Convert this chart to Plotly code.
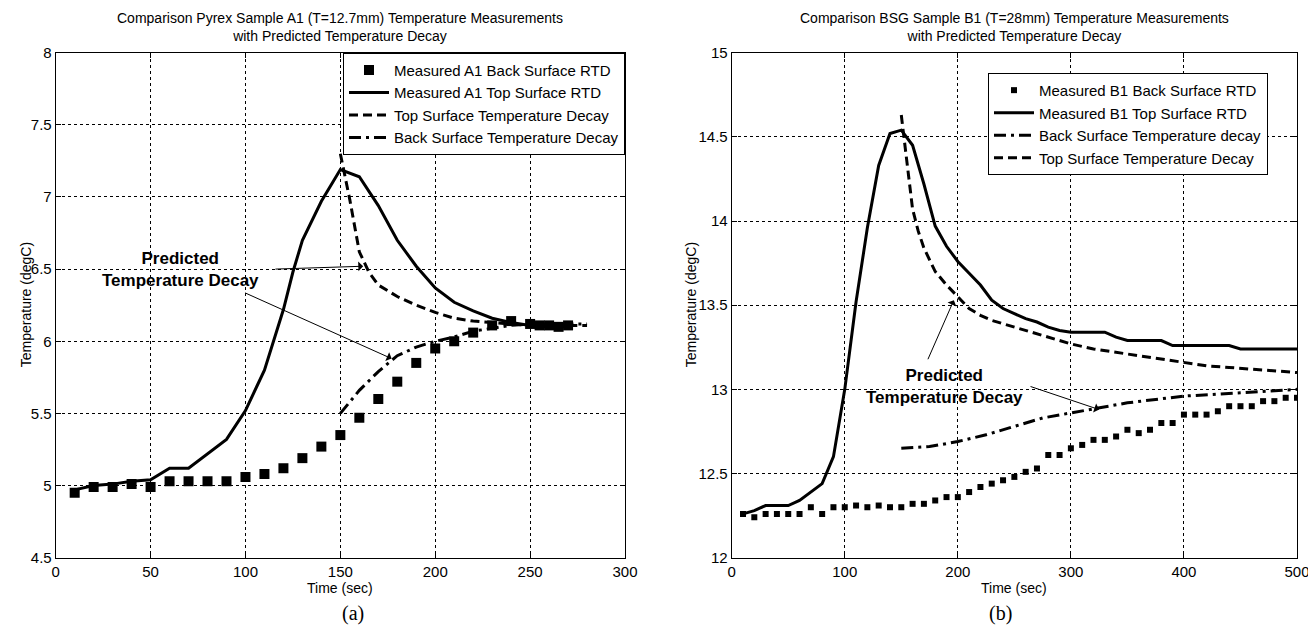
import plotly.graph_objects as go

# ---------------- Data: (a) Pyrex Sample A1 ----------------
a_back_t = [10, 20, 30, 40, 50, 60, 70, 80, 90, 100, 110, 120, 130, 140, 150, 160, 170, 180, 190,
            200, 210, 220, 230, 240, 250, 255, 260, 265, 270]
a_back_T = [4.95, 4.99, 4.99, 5.01, 4.99, 5.03, 5.03, 5.03, 5.03, 5.06, 5.08, 5.12, 5.19, 5.27, 5.35,
            5.47, 5.60, 5.72, 5.85, 5.95, 6.00, 6.06, 6.11, 6.14, 6.12, 6.11, 6.11, 6.10, 6.11]

a_top_t = [10, 20, 30, 40, 50, 60, 70, 80, 90, 100, 110, 120, 125, 130, 140, 150, 160, 170, 180, 190,
           200, 210, 220, 230, 240, 250, 260, 270]
a_top_T = [4.97, 5.00, 5.01, 5.03, 5.04, 5.12, 5.12, 5.22, 5.32, 5.52, 5.80, 6.22, 6.48, 6.70, 6.97,
           7.19, 7.14, 6.94, 6.70, 6.52, 6.37, 6.27, 6.21, 6.16, 6.13, 6.11, 6.10, 6.10]

a_topdecay_t = [150, 155, 160, 165, 170, 180, 190, 200, 210, 220, 230, 240, 250, 260, 270, 280]
a_topdecay_T = [7.30, 6.98, 6.62, 6.48, 6.39, 6.31, 6.25, 6.20, 6.16, 6.14, 6.13, 6.12, 6.11, 6.11, 6.11, 6.11]

a_backdecay_t = [150, 160, 170, 180, 190, 200, 210, 220, 230, 240, 250, 260, 270, 280]
a_backdecay_T = [5.50, 5.66, 5.79, 5.90, 5.96, 6.00, 6.03, 6.07, 6.09, 6.11, 6.12, 6.12, 6.12, 6.12]

# ---------------- Data: (b) BSG Sample B1 ----------------
b_back_t = list(range(10, 501, 10))
b_back_T = [12.26, 12.24, 12.26, 12.26, 12.26, 12.26, 12.30, 12.26, 12.30, 12.30,
            12.31, 12.30, 12.31, 12.30, 12.30, 12.32, 12.32, 12.34, 12.36, 12.36,
            12.39, 12.42, 12.44, 12.46, 12.48, 12.51, 12.53, 12.61, 12.61, 12.65,
            12.67, 12.70, 12.70, 12.72, 12.76, 12.74, 12.76, 12.80, 12.80, 12.85,
            12.85, 12.85, 12.87, 12.90, 12.90, 12.90, 12.93, 12.93, 12.95, 12.95]

b_top_t = [10, 20, 30, 40, 50, 60, 70, 80, 90, 100, 110, 120, 130, 140, 150, 160, 170, 180, 190, 200,
           210, 220, 230, 240, 250, 260, 270, 280, 290, 300, 330, 340, 350, 380, 390, 440, 450, 500]
b_top_T = [12.26, 12.28, 12.31, 12.31, 12.31, 12.34, 12.39, 12.44, 12.60, 13.00, 13.52, 13.96, 14.33,
           14.52, 14.54, 14.45, 14.22, 13.97, 13.85, 13.76, 13.69, 13.62, 13.53, 13.48, 13.45, 13.42,
           13.40, 13.37, 13.35, 13.34, 13.34, 13.31, 13.29, 13.29, 13.26, 13.26, 13.24, 13.24]

b_backdecay_t = [150, 175, 200, 225, 250, 275, 300, 325, 350, 375, 400, 425, 450, 475, 500]
b_backdecay_T = [12.65, 12.66, 12.69, 12.73, 12.78, 12.83, 12.86, 12.89, 12.92, 12.94, 12.96, 12.97,
                 12.98, 12.99, 13.00]

b_topdecay_t = [150, 155, 160, 165, 170, 180, 190, 200, 210, 220, 230, 240, 250, 260, 270, 280, 300,
                320, 340, 360, 380, 400, 420, 440, 460, 480, 500]
b_topdecay_T = [14.63, 14.35, 14.07, 13.94, 13.84, 13.70, 13.62, 13.55, 13.48, 13.44, 13.41, 13.39,
                13.37, 13.35, 13.33, 13.31, 13.27, 13.24, 13.22, 13.20, 13.18, 13.16, 13.14, 13.13,
                13.12, 13.11, 13.10]

a_xticks = [0, 50, 100, 150, 200, 250, 300]
a_yticks = [4.5, 5, 5.5, 6, 6.5, 7, 7.5, 8]
b_xticks = [0, 100, 200, 300, 400, 500]
b_yticks = [12, 12.5, 13, 13.5, 14, 14.5, 15]

a_title = "Comparison Pyrex Sample A1 (T=12.7mm) Temperature Measurements<br>with Predicted Temperature Decay"
b_title = "Comparison BSG Sample B1 (T=28mm) Temperature Measurements<br>with Predicted Temperature Decay"

W, H = 1316, 632
OFF = 8  # page body margin offset of the plot div
FONT = "Liberation Sans, Arial, sans-serif"


def px_x(p):
    return (p - OFF) / W


def px_y(p):
    return 1 - (p - OFF) / H


LX = [px_x(55.7), px_x(625)]
RX = [px_x(731.7), px_x(1297)]
YD = [px_y(557.7), px_y(52.7)]

fig = go.Figure()
lw = 3
dash_dashed = "9px,5px"
dash_dd = "12px,5px,3px,5px"

# (a) traces
fig.add_trace(go.Scatter(x=a_back_t, y=a_back_T, mode="markers", name="Measured A1 Back Surface RTD",
                         marker=dict(symbol="square", size=10, color="black"),
                         xaxis="x", yaxis="y", legend="legend"))
fig.add_trace(go.Scatter(x=a_top_t, y=a_top_T, mode="lines", name="Measured A1 Top Surface RTD",
                         line=dict(color="black", width=lw), xaxis="x", yaxis="y", legend="legend"))
fig.add_trace(go.Scatter(x=a_topdecay_t, y=a_topdecay_T, mode="lines", name="Top Surface Temperature Decay",
                         line=dict(color="black", width=lw, dash=dash_dashed), xaxis="x", yaxis="y",
                         legend="legend"))
fig.add_trace(go.Scatter(x=a_backdecay_t, y=a_backdecay_T, mode="lines", name="Back Surface Temperature Decay",
                         line=dict(color="black", width=lw, dash=dash_dd), xaxis="x", yaxis="y",
                         legend="legend"))

# (b) traces
fig.add_trace(go.Scatter(x=b_back_t, y=b_back_T, mode="markers", name="Measured B1 Back Surface RTD",
                         marker=dict(symbol="square", size=6, color="black"),
                         xaxis="x2", yaxis="y2", legend="legend2"))
fig.add_trace(go.Scatter(x=b_top_t, y=b_top_T, mode="lines", name="Measured B1 Top Surface RTD",
                         line=dict(color="black", width=lw), xaxis="x2", yaxis="y2", legend="legend2"))
fig.add_trace(go.Scatter(x=b_backdecay_t, y=b_backdecay_T, mode="lines", name="Back Surface Temperature decay",
                         line=dict(color="black", width=lw, dash=dash_dd), xaxis="x2", yaxis="y2",
                         legend="legend2"))
fig.add_trace(go.Scatter(x=b_topdecay_t, y=b_topdecay_T, mode="lines", name="Top Surface Temperature Decay",
                         line=dict(color="black", width=lw, dash=dash_dashed), xaxis="x2", yaxis="y2",
                         legend="legend2"))

axis_common = dict(showline=True, linecolor="black", linewidth=1, mirror="ticks", ticks="inside",
                   ticklen=5, tickcolor="black", showgrid=True, gridcolor="black", griddash="dot",
                   gridwidth=1, zeroline=False, automargin=False,
                   tickfont=dict(family=FONT, size=15, color="black"))

legend_common = dict(xanchor="right", yanchor="top", bgcolor="white", bordercolor="black", borderwidth=1,
                     font=dict(family=FONT, size=15, color="black"), itemwidth=40, tracegroupgap=0)

fig.update_layout(
    template="none",
    width=W, height=H, margin=dict(l=0, r=0, t=0, b=0, autoexpand=False),
    paper_bgcolor="white", plot_bgcolor="white",
    xaxis=dict(domain=LX, range=[0, 300], tickvals=a_xticks, anchor="y", **axis_common),
    yaxis=dict(domain=YD, range=[4.5, 8], tickvals=a_yticks, anchor="x", **axis_common),
    xaxis2=dict(domain=RX, range=[0, 500], tickvals=b_xticks, anchor="y2", **axis_common),
    yaxis2=dict(domain=YD, range=[12, 15], tickvals=b_yticks, anchor="x2", **axis_common),
    legend=dict(x=LX[1], y=YD[1], **legend_common),
    legend2=dict(x=px_x(1268), y=px_y(72.9), **legend_common),
    showlegend=True,
)

ann = []
# titles
for txt, dom in [(a_title, LX), (b_title, RX)]:
    cx = (dom[0] + dom[1]) / 2
    ann.append(dict(text=txt, x=cx, y=px_y(27), xref="paper", yref="paper", xanchor="center",
                    yanchor="middle", showarrow=False, font=dict(family=FONT, size=14, color="black")))
    ann.append(dict(text="Time (sec)", x=cx, y=px_y(588), xref="paper", yref="paper", xanchor="center",
                    yanchor="middle", showarrow=False, font=dict(family=FONT, size=14, color="black")))
ann.append(dict(text="(a)", x=(LX[0] + LX[1]) / 2, y=px_y(613), xref="paper", yref="paper",
                yanchor="middle", showarrow=False,
                font=dict(family="Liberation Serif, Times New Roman, serif", size=20, color="black")))
ann.append(dict(text="(b)", x=(RX[0] + RX[1]) / 2, y=px_y(613), xref="paper", yref="paper",
                yanchor="middle", showarrow=False,
                font=dict(family="Liberation Serif, Times New Roman, serif", size=20, color="black")))
ann.append(dict(text="Temperature (degC)", x=px_x(16), y=(YD[0] + YD[1]) / 2, xref="paper", yref="paper",
                textangle=-90, showarrow=False, font=dict(family=FONT, size=14, color="black")))
ann.append(dict(text="Temperature (degC)", x=px_x(691), y=(YD[0] + YD[1]) / 2, xref="paper", yref="paper",
                textangle=-90, showarrow=False, font=dict(family=FONT, size=14, color="black")))

# "Predicted Temperature Decay" labels
ann.append(dict(text="<b>Predicted<br>Temperature Decay</b>", x=66, y=6.50, xref="x", yref="y",
                showarrow=False, font=dict(family=FONT, size=17, color="black")))
ann.append(dict(text="<b>Predicted<br>Temperature Decay</b>", x=188, y=13.015, xref="x2", yref="y2",
                showarrow=False, font=dict(family=FONT, size=17, color="black")))

# arrows (tail -> head)
arrows = [
    ("x", "y", 115, 6.50, 162, 6.52),
    ("x", "y", 99, 6.34, 177, 5.88),
    ("x2", "y2", 173, 13.17, 196.5, 13.53),
    ("x2", "y2", 263, 13.02, 325, 12.88),
]
for xr, yr, tx, ty, hx, hy in arrows:
    ann.append(dict(x=hx, y=hy, ax=tx, ay=ty, xref=xr, yref=yr, axref=xr, ayref=yr, text="",
                    showarrow=True, arrowhead=1, arrowsize=1.6, arrowwidth=1, arrowcolor="black"))

fig.update_layout(annotations=ann)
fig.write_html("out.html")
